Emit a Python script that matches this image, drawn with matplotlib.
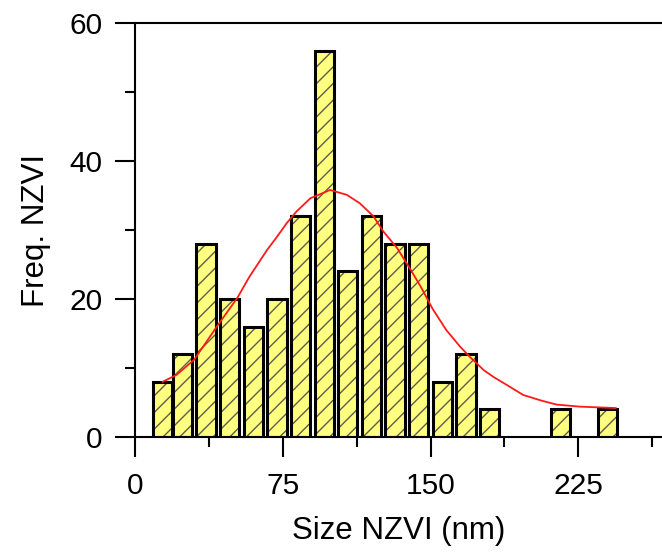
import matplotlib.pyplot as plt

plt.rcParams['font.family'] = ['Liberation Sans', 'DejaVu Sans']
plt.rcParams['hatch.linewidth'] = 1.0

# Histogram of NZVI particle sizes
bin_centers = [14, 24, 36, 48, 60, 72, 84, 96, 108, 120, 132, 144, 156, 168, 180, 216, 240]
counts = [8, 12, 28, 20, 16, 20, 32, 56, 24, 32, 28, 28, 8, 12, 4, 4, 4]

# Gaussian fit curve
fit_x = [14, 21, 30, 36, 41.5, 46.5, 52, 58, 67, 72, 77, 82, 89, 99, 107.5, 114, 121,
         126, 133, 140, 145, 151, 158, 165, 170, 177, 182, 189, 197, 206, 214, 226, 244]
fit_y = [8.0, 9.0, 11.2, 13.7, 16.0, 18.0, 20.2, 23.2, 27.1, 29.0, 31.0, 32.7, 34.6,
         35.8, 35.1, 33.9, 32.0, 29.8, 27.4, 24.2, 21.8, 18.6, 15.5, 13.1, 11.6, 9.7,
         8.7, 7.5, 6.1, 5.3, 4.7, 4.4, 4.2]

fig = plt.figure(figsize=(6.62, 5.52), dpi=100)
ax = fig.add_axes([0.204, 0.2083, 0.796, 0.75])

# hatched fill, then black outlines
ax.bar(bin_centers, counts, width=9.8, color='#ffff80', edgecolor='#5e5e4c',
       hatch='//', linewidth=0, zorder=2)
ax.bar(bin_centers, counts, width=9.8, fill=False, edgecolor='black',
       linewidth=2.2, zorder=3)

ax.plot(fit_x, fit_y, color='#ff1a1a', linewidth=1.3, zorder=4)

ax.set_xlim(0, 267.5)
ax.set_ylim(0, 60)
ax.set_xticks([0, 75, 150, 225])
ax.set_xticks([37.5, 112.5, 187.5, 262.5], minor=True)
ax.set_yticks([0, 20, 40, 60])
ax.set_yticks([10, 30, 50], minor=True)

ax.tick_params(which='major', direction='out', length=14.5, width=1.5,
               labelsize=21.5)
ax.tick_params(axis='x', which='major', pad=11)
ax.tick_params(axis='y', which='major', pad=9)
ax.tick_params(which='minor', direction='out', length=7.5, width=1.5)
ax.spines['right'].set_visible(False)
for s in ['left', 'top', 'bottom']:
    ax.spines[s].set_linewidth(1.5)

ax.set_xlabel('Size NZVI (nm)', fontsize=22.5, labelpad=11)
ax.set_ylabel('Freq. NZVI', fontsize=22.5, labelpad=13)

plt.savefig('out.png', dpi=100)
